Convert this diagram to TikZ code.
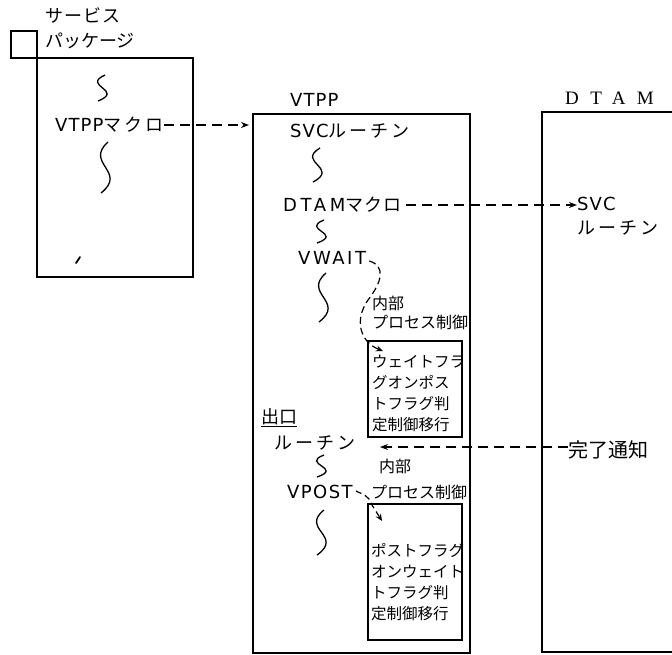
\documentclass[tikz,border=0pt]{standalone}
\usepackage{fontspec}
\setmainfont{Noto Sans CJK JP}
\newfontfamily\latf[LetterSpace=6]{DejaVu Sans}
\newfontfamily\spacedfont[LetterSpace=60]{Liberation Serif}
\usetikzlibrary{arrows.meta}
\newcommand\mysq[3]{\draw[squig] ({#1+4},#2) .. controls ({#1-20},{#2+0.42*(#3-#2)}) and ({#1+24},{#2+0.58*(#3-#2)}) .. ({#1-3},#3);}
\newcommand\rt{ル\kern3pt ー\kern3pt チ\kern3pt ン}
\begin{document}
\begin{tikzpicture}[x=1pt,y=-1pt,
  box/.style={draw,line width=1.6pt,inner sep=0pt},
  lbl/.style={anchor=west,inner sep=0pt,font=\fontsize{18}{18}\selectfont},
  sml/.style={anchor=west,inner sep=0pt,font=\fontsize{16}{16}\selectfont},
  inner/.style={anchor=north west,inner sep=0pt,align=left,font=\fontsize{15.5}{21}\selectfont},
  darrow/.style={line width=1.2pt,dash pattern=on 10pt off 6pt,-{Stealth[length=8pt,width=6pt]}},
  squig/.style={line width=1.3pt}]
\useasboundingbox (0,0) rectangle (672,654);

% service package
\node[box,minimum width=26pt,minimum height=27pt,anchor=north west] (sq) at (10,30) {};
\node[box,minimum width=156pt,minimum height=219pt,anchor=north west] (sp) at (36,57) {};
\node[lbl] (t1) at (45,15) {サ\kern1pt ー\kern1pt ビ\kern1pt ス};
\node[lbl] (t2) at (45,41) {パッケージ};
\mysq{101}{75}{101}
\node[lbl] (vtppm) at (55,125) {{\latf VTPP}マ\kern3pt ク\kern3pt ロ};
\mysq{104}{142}{193}
\draw[line width=1.8pt,line cap=round] (76,263) -- (80,257);

% VTPP box
\node[box,minimum width=217pt,minimum height=539pt,anchor=north west] (vtpp) at (252,113) {};
\node[lbl] (vtppl) at (290,100) {\latf VTPP};
\node[lbl] (svc1) at (290,131) {{\latf SVC}\rt};
\mysq{316}{148}{182}
\node[lbl] (dtamm) at (283,205) {{\latf\addfontfeature{LetterSpace=20}DTAM}マ\kern1pt ク\kern1pt ロ};
\mysq{320}{220}{243}
\node[lbl] (vwait) at (298,258) {{\latf\addfontfeature{LetterSpace=14}VWAIT}};
\mysq{322}{273}{322}
\node[sml] (naibu1) at (372,303) {内部};
\node[sml] (proc1) at (372,322) {プロセス制御};
\node[box,minimum width=94pt,minimum height=96pt,anchor=north west] (b1) at (367,340) {};
\node[inner] (b1t) at (372,355) {ウェイトフラ\\グオンポス\\トフラグ判\\定制御移行};
\coordinate (b1in) at (383,351);
\node[lbl] (exit1) at (261,418) {\underline{出口}};
\node[lbl] (exit2) at (274,443) {\rt};
\mysq{320}{455}{477}
\node[sml] (naibu2) at (379,466) {内部};
\node[lbl] (vpost) at (287,492) {{\latf\addfontfeature{LetterSpace=8}VPOST}};
\node[sml] (proc2) at (371,492) {プロセス制御};
\node[box,minimum width=94pt,minimum height=136pt,anchor=north west] (b2) at (367,503) {};
\node[inner] (b2t) at (371,543) {ポストフラグ\\オンウェイト\\トフラグ判\\定制御移行};
\coordinate (b2in) at (382,521);
\mysq{320}{510}{555}

% DTAM box
\draw[line width=1.6pt] (680,112) -| (542,652) -- (680,652);
\node[anchor=west,inner sep=0pt,font=\spacedfont\fontsize{19}{19}\selectfont] (dtaml) at (565,98) {DTAM};
\node[lbl] (svc2) at (577,204) {\latf SVC};
\node[lbl] (svc2b) at (577,228) {\rt};
\node[lbl,font=\fontsize{20}{20}\selectfont] (kanryo) at (568,450) {完了通知};

% connectors
\coordinate (a1) at (249,125);
\draw[darrow] (vtppm.east) -- (a1);
\draw[darrow] (dtamm.east) ++(4,0) -- (svc2.west |- dtamm.east);
\coordinate (a3) at (380,447);
\draw[darrow] (kanryo.west |- a3) -- (a3);
\draw[line width=1.2pt,dash pattern=on 7pt off 4pt,-{Stealth[length=7pt,width=6pt]}]
  (vwait.east) ++(3,3) .. controls (386,266) and (382,282) .. (368,300)
  .. controls (354,320) and (360,342) .. (b1in);
\draw[line width=1.2pt,dash pattern=on 6pt off 4pt,-{Stealth[length=7pt,width=6pt]}]
  (vpost.east) ++(3,-1) .. controls (362,494) and (370,496) .. (372,505)
  -- (b2in);
\end{tikzpicture}
\end{document}
